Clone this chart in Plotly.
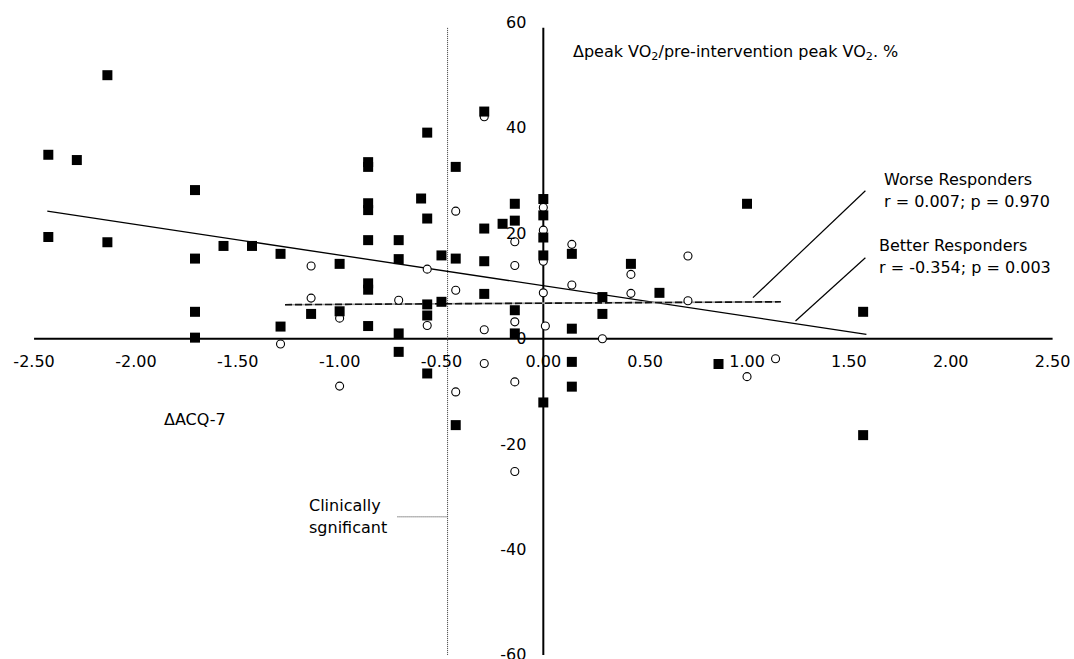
import plotly.graph_objects as go

# ---------------- data ----------------
# Better responders (filled squares): x = change in ACQ-7, y = change in peak VO2 (%)
better_x = [-2.14, -2.43, -2.29, -1.71, -2.43, -2.14, -1.57, -1.43, -1.29, -1.71,
            -1.00, -1.71, -1.71, -1.29, -1.14, -1.00, -0.86, -0.86, -0.86, -0.86,
            -0.86, -0.86, -0.86, -0.86, -0.71, -0.71, -0.71, -0.71, -0.57, -0.60,
            -0.57, -0.57, -0.57, -0.57, -0.50, -0.50, -0.43, -0.43, -0.43, -0.29,
            -0.29, -0.29, -0.29, -0.20, -0.14, -0.14, -0.14, -0.14, 0.00, 0.00,
            0.00, 0.00, 0.00, 0.14, 0.14, 0.14, 0.14, 0.29, 0.29, 0.43,
            0.57, 0.86, 1.00, 1.57, 1.57]
better_y = [50.0, 34.9, 33.9, 28.2, 19.3, 18.3, 17.6, 17.6, 16.1, 15.2,
            14.2, 5.1, 0.2, 2.3, 4.7, 5.2, 33.5, 32.6, 25.7, 24.4,
            18.7, 10.5, 9.3, 2.4, 18.7, 15.1, 1.0, -2.5, 39.1, 26.6,
            22.8, 6.5, 4.4, -6.6, 15.8, 7.0, 32.6, 15.2, -16.4, 43.1,
            20.9, 14.7, 8.5, 21.8, 25.6, 22.4, 5.4, 1.0, 26.5, 23.4,
            19.2, 15.8, -12.1, 16.1, 1.9, -4.4, -9.1, 7.9, 4.7, 14.2,
            8.7, -4.8, 25.6, 5.1, -18.3]

# Worse responders (open circles)
worse_x = [-1.14, -1.14, -1.00, -1.29, -1.00, -0.71, -0.57, -0.57, -0.43, -0.43,
           -0.43, -0.29, -0.29, -0.29, -0.14, -0.14, -0.14, -0.14, -0.14, 0.00,
           0.00, 0.00, 0.00, 0.01, 0.14, 0.14, 0.29, 0.43, 0.43, 0.71,
           0.71, 1.00, 1.14]
worse_y = [13.8, 7.7, 3.9, -1.0, -9.0, 7.3, 13.2, 2.5, 24.2, 9.2,
           -10.1, 42.1, 1.7, -4.7, 18.4, 13.9, 3.2, -8.2, -25.2, 24.9,
           20.6, 14.7, 8.7, 2.4, 17.9, 10.2, 0.0, 12.2, 8.6, 15.7,
           7.2, -7.2, -3.8]

# Regression lines (end points)
better_fit_x = [-2.435, 1.586]
better_fit_y = [24.2, 0.83]
worse_fit_x = [-1.268, 1.166]
worse_fit_y = [6.45, 7.0]

# Clinically significant threshold
threshold_x = -0.47

# Axis ticks
x_ticks = [-2.5, -2.0, -1.5, -1.0, -0.5, 0.0, 0.5, 1.0, 1.5, 2.0, 2.5]
x_ticklabels = ["-2.50", "-2.00", "-1.50", "-1.00", "-0.50", "0.00",
                "0.50", "1.00", "1.50", "2.00", "2.50"]
y_ticks = [-60, -40, -20, 0, 20, 40, 60]
y_ticklabels = ["-60", "-40", "-20", "0", "20", "40", "60"]

FONT = "DejaVu Sans"
X_RANGE = [-2.569, 2.556]
Y_RANGE = [-60.78, 62.37]

fig = go.Figure()

fig.add_trace(go.Scatter(x=better_fit_x, y=better_fit_y, mode="lines",
                         line=dict(color="black", width=1.3), hoverinfo="skip"))
# two-tone dashed regression line (grey under, black dashes on top)
fig.add_trace(go.Scatter(x=worse_fit_x, y=worse_fit_y, mode="lines",
                         line=dict(color="#9a9a9a", width=1.6), hoverinfo="skip"))
fig.add_trace(go.Scatter(x=worse_fit_x, y=worse_fit_y, mode="lines",
                         line=dict(color="#111111", width=1.6, dash="7px,3px"),
                         hoverinfo="skip"))
fig.add_trace(go.Scatter(x=worse_x, y=worse_y, mode="markers",
                         marker=dict(symbol="circle", size=8, color="white",
                                     line=dict(color="black", width=1.1))))
fig.add_trace(go.Scatter(x=better_x, y=better_y, mode="markers",
                         marker=dict(symbol="square", size=10, color="black",
                                     line=dict(width=0))))

shapes = [
    # x axis
    dict(type="line", xref="x", yref="y", x0=-2.5, x1=2.5, y0=0, y1=0,
         line=dict(color="black", width=2), layer="below"),
    # y axis
    dict(type="line", xref="x", yref="y", x0=0, x1=0, y0=-60, y1=59,
         line=dict(color="black", width=2), layer="below"),
    # threshold dotted line
    dict(type="line", xref="x", yref="y", x0=threshold_x, x1=threshold_x, y0=-60, y1=59,
         line=dict(color="#333333", width=1, dash="1px,1px"), layer="below"),
    # leader to "Clinically sgnificant"
    dict(type="line", xref="x", yref="y", x0=-0.716, x1=threshold_x, y0=-33.8, y1=-33.8,
         line=dict(color="#333333", width=1, dash="1px,1px"), layer="below"),
    # leader lines to regression labels
    dict(type="line", xref="x", yref="y", x0=1.581, x1=1.029, y0=28.08, y1=7.78,
         line=dict(color="black", width=1.2)),
    dict(type="line", xref="x", yref="y", x0=1.581, x1=1.238, y0=15.37, y1=3.36,
         line=dict(color="black", width=1.2)),
]

def note(text, x, y):
    return dict(text=text, x=x, y=y, xref="x", yref="y", xanchor="left",
                yanchor="middle", showarrow=False,
                font=dict(family=FONT, size=16, color="black"))

annotations = [
    note("Δpeak VO<sub>2</sub>/pre-intervention peak VO<sub>2</sub>. %", 0.137, 54.35),
    note("ΔACQ-7", -1.870, -15.24),
    note("Clinically", -1.162, -31.56),
    note("sgnificant", -1.162, -35.8),
    note("Worse Responders", 1.664, 30.3),
    note("r = 0.007; p = 0.970", 1.664, 26.0),
    note("Better Responders", 1.639, 17.6),
    note("r = -0.354; p = 0.003", 1.639, 13.5),
]

fig.update_layout(
    width=1074, height=659,
    margin=dict(l=20, r=10, t=10, b=0),
    paper_bgcolor="white", plot_bgcolor="white",
    showlegend=False,
    shapes=shapes,
    annotations=annotations,
    font=dict(family=FONT, size=16, color="black"),
    xaxis=dict(range=X_RANGE, tickvals=x_ticks, ticktext=x_ticklabels,
               anchor="free", position=(0 - Y_RANGE[0]) / (Y_RANGE[1] - Y_RANGE[0]),
               showgrid=False, zeroline=False, showline=False, ticks="",
               ticklabelstandoff=11, automargin=False, ticklabeloverflow="allow",
               tickfont=dict(family=FONT, size=16, color="black")),
    yaxis=dict(range=Y_RANGE, tickvals=y_ticks, ticktext=y_ticklabels,
               anchor="free", position=(0 - X_RANGE[0]) / (X_RANGE[1] - X_RANGE[0]),
               showgrid=False, zeroline=False, showline=False, ticks="",
               ticklabelstandoff=17, automargin=False, ticklabeloverflow="allow",
               tickfont=dict(family=FONT, size=16, color="black")),
)

fig.write_html("out.html", config={"displayModeBar": False},
               post_script="document.body.style.margin='0px';")
